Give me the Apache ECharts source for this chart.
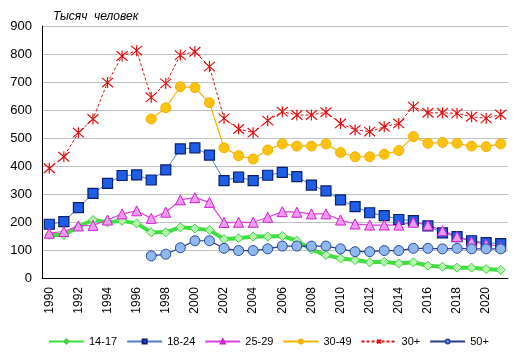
<!DOCTYPE html>
<html><head><meta charset="utf-8">
<script src="https://cdn.jsdelivr.net/npm/echarts@6/dist/echarts.min.js"></script>
<style>html,body{margin:0;padding:0;background:#fff}#c{width:522px;height:359px}</style>
</head><body><div id="c"></div>
<script>
const years = [];
for (let y = 1990; y <= 2021; y++) years.push(String(y));
const s14_17 = [154,154,183,207,199,204,195,163,163,181,177,171,139,142,148,148,150,133,102,82,70,64,56,58,52,56,44,40,37,37,32,29];
const s18_24 = [192,201,251,302,338,366,368,350,386,461,465,439,348,360,348,367,377,362,332,311,279,255,233,223,209,205,186,161,148,133,126,123];
const s25_29 = [160,166,186,188,207,229,240,213,235,279,287,270,198,199,199,217,237,235,229,229,207,193,189,189,189,199,189,169,148,130,121,112];
const s30_49 = [null,null,null,null,null,null,null,568,608,683,680,626,465,437,425,457,479,471,471,479,448,433,433,442,455,505,481,484,481,471,469,479];
const s30p = [392,433,519,568,698,793,812,645,695,796,808,755,570,532,519,562,594,582,582,592,552,529,523,540,552,612,590,590,588,576,570,584];
const s50p = [null,null,null,null,null,null,null,79,85,108,133,133,106,98,98,104,114,114,114,114,104,94,94,98,98,106,106,104,106,104,104,104];
const yTicks = [0,100,200,300,400,500,600,700,800,900];

const asterisk = 'path://M5,0 L5,10 M0.7,0.7 L9.3,9.3 M9.3,0.7 L0.7,9.3 M5,0 L5,10';

const chart = echarts.init(document.getElementById('c'), null, {renderer: 'canvas'});
const font = 'Liberation Sans, Arial, sans-serif';
chart.setOption({
  animation: false,
  textStyle: {fontFamily: font},
  title: {text: 'Тысяч  человек', left: 48, top: 6,
    textStyle: {fontSize: 12, fontStyle: 'italic', fontWeight: 'normal', color: '#000', fontFamily: font}},
  grid: {left: 42, right: 14, top: 26, bottom: 81, containLabel: false},
  legend: {left: 43, top: 331, width: 475, itemWidth: 35, itemHeight: 5, itemGap: 9,
    textStyle: {fontSize: 11, color: '#000', fontFamily: font},
    data: ['14-17','18-24','25-29','30-49','30+','50+']},
  xAxis: {type: 'category', data: years, boundaryGap: true,
    axisLine: {lineStyle: {color: '#000', width: 1}},
    axisTick: {show: false},
    axisLabel: {interval: 1, rotate: 90, margin: 9, fontSize: 12, color: '#000', fontFamily: font}},
  yAxis: {type: 'value', min: yTicks[0], max: yTicks[yTicks.length-1], interval: 100,
    axisLine: {show: true, lineStyle: {color: '#000', width: 1}},
    axisTick: {show: false},
    axisLabel: {fontSize: 13, color: '#000', margin: 10, fontFamily: font},
    splitLine: {lineStyle: {color: '#c0c0c0', width: 1}}},
  series: [
    {name: '14-17', type: 'line', data: s14_17, symbol: 'diamond', symbolSize: 9, showAllSymbol: true,
      lineStyle: {color: '#3ee03e', width: 4},
      itemStyle: {color: '#b8f5b0', borderColor: '#3ecf3e', borderWidth: 1}, z: 2},
    {name: '18-24', type: 'line', data: s18_24, symbol: 'rect', symbolSize: 10, showAllSymbol: true,
      lineStyle: {color: '#4f7fcf', width: 1},
      itemStyle: {color: '#1f5fe8', borderColor: '#0a1f70', borderWidth: 1.2}, z: 3},
    {name: '25-29', type: 'line', data: s25_29, symbol: 'triangle', symbolSize: 10, showAllSymbol: true,
      lineStyle: {color: '#e040e0', width: 1.2},
      itemStyle: {color: '#f09af0', borderColor: '#d020d0', borderWidth: 1}, z: 3},
    {name: '30-49', type: 'line', data: s30_49, symbol: 'circle', symbolSize: 10, showAllSymbol: true,
      lineStyle: {color: '#f5b400', width: 1.2},
      itemStyle: {color: '#ffc20e', borderColor: '#f0b000', borderWidth: 1}, z: 3},
    {name: '30+', type: 'line', data: s30p, symbol: asterisk, symbolSize: 11, showAllSymbol: true,
      lineStyle: {color: '#e01010', width: 1, type: [3, 2]},
      itemStyle: {color: 'rgba(0,0,0,0)', borderColor: '#e01010', borderWidth: 1.2}, z: 3},
    {name: '50+', type: 'line', data: s50p, symbol: 'circle', symbolSize: 10, showAllSymbol: true,
      lineStyle: {color: '#2a3a8a', width: 1.2},
      itemStyle: {color: '#8fb8ee', borderColor: '#2a4a9a', borderWidth: 1}, z: 3}
  ]
});
</script>
</body></html>
